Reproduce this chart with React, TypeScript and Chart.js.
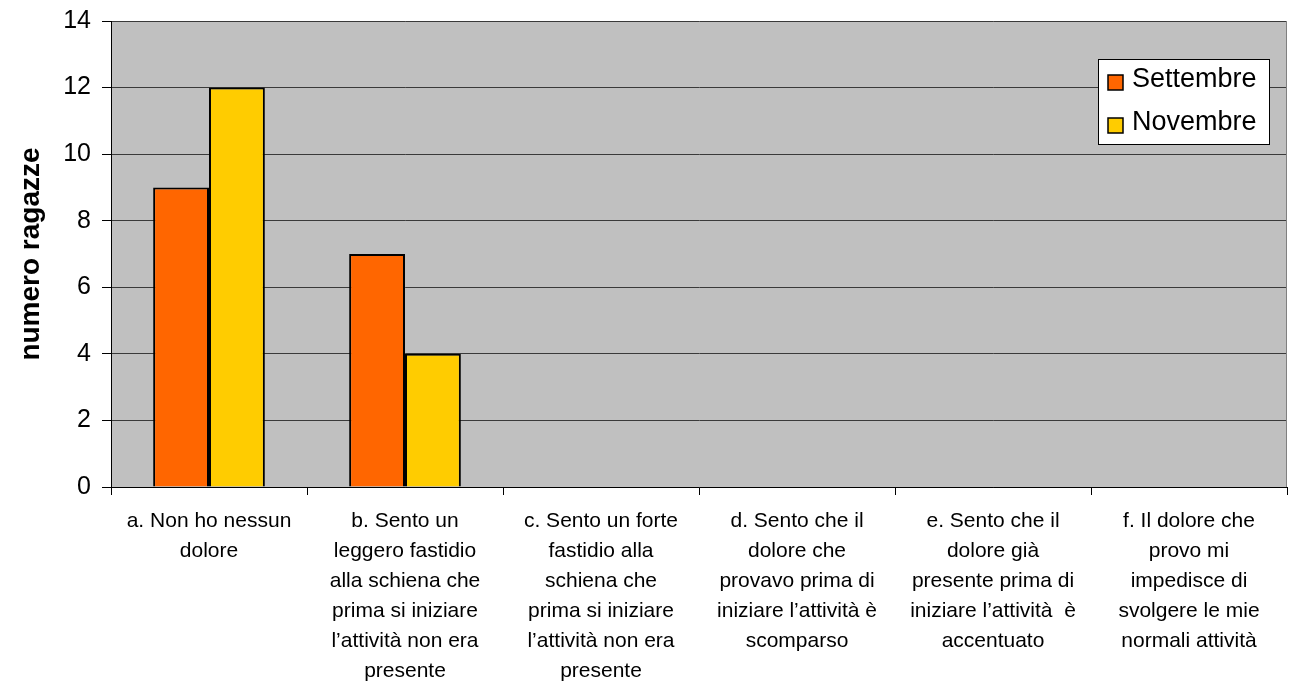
import React, { useEffect, useRef } from "react";
import { Chart, registerables } from "chart.js";

Chart.register(...registerables);

const categories: string[][] = [
  ["a. Non ho nessun", "dolore"],
  ["b. Sento un", "leggero fastidio", "alla schiena che", "prima si iniziare", "l’attività non era", "presente"],
  ["c. Sento un forte", "fastidio alla", "schiena che", "prima si iniziare", "l’attività non era", "presente"],
  ["d. Sento che il", "dolore che", "provavo prima di", "iniziare l’attività è", "scomparso"],
  ["e. Sento che il", "dolore già", "presente prima di", "iniziare l’attività  è", "accentuato"],
  ["f. Il dolore che", "provo mi", "impedisce di", "svolgere le mie", "normali attività"],
];
const settembre: number[] = [9, 7, 0, 0, 0, 0];
const novembre: number[] = [12, 4, 0, 0, 0, 0];
const seriesNames: string[] = ["Settembre", "Novembre"];
const seriesColors: string[] = ["#FF6600", "#FFCC00"];
const yTitle = "numero ragazze";

const FONT = "'Liberation Sans', Arial, sans-serif";

const bgPlugin = {
  id: "plotBg",
  beforeDraw(chart: any) {
    const { ctx, chartArea } = chart;
    ctx.save();
    ctx.fillStyle = "#C0C0C0";
    ctx.fillRect(chartArea.left, chartArea.top, chartArea.right - chartArea.left, chartArea.bottom - chartArea.top);
    ctx.restore();
  },
  afterDraw(chart: any) {
    const { ctx, chartArea } = chart;
    ctx.save();
    ctx.strokeStyle = "#808080";
    ctx.lineWidth = 1;
    ctx.beginPath();
    ctx.moveTo(chartArea.right - 0.5, chartArea.top);
    ctx.lineTo(chartArea.right - 0.5, chartArea.bottom);
    ctx.stroke();
    // legend
    const bx = 1098, by = 59, bw = 171, bh = 85;
    ctx.fillStyle = "#FFFFFF";
    ctx.fillRect(bx, by, bw, bh);
    ctx.strokeStyle = "#000000";
    ctx.lineWidth = 1;
    ctx.strokeRect(bx + 0.5, by + 0.5, bw, bh);
    ctx.font = `27px ${FONT}`;
    ctx.textBaseline = "middle";
    ctx.textAlign = "left";
    chart.data.datasets.forEach((ds: any, i: number) => {
      const cy = by + 23 + i * 43;
      ctx.fillStyle = ds.backgroundColor;
      ctx.fillRect(bx + 10, cy - 7, 15, 15);
      ctx.strokeStyle = "#000";
      ctx.lineWidth = 1.5;
      ctx.strokeRect(bx + 10, cy - 7, 15, 15);
      ctx.fillStyle = "#000";
      ctx.fillText(ds.label, bx + 34, cy - 2);
    });
    ctx.restore();
  },
};

export default function App() {
  const ref = useRef<HTMLCanvasElement>(null);
  useEffect(() => {
    if (!ref.current) return;
    const chart = new Chart(ref.current, {
      type: "bar",
      data: {
        labels: categories,
        datasets: [
          { label: seriesNames[0], data: settembre, backgroundColor: seriesColors[0], borderColor: "#000", borderWidth: 2, categoryPercentage: 0.57, barPercentage: 1 },
          { label: seriesNames[1], data: novembre, backgroundColor: seriesColors[1], borderColor: "#000", borderWidth: 2, categoryPercentage: 0.57, barPercentage: 1 },
        ],
      },
      options: {
        animation: false,
        responsive: false,
        devicePixelRatio: 1,
        layout: { padding: { top: 21, right: 9, left: 0, bottom: 0 } },
        plugins: { legend: { display: false }, tooltip: { enabled: false } },
        scales: {
          x: {
            afterFit(scale: any) { scale.height = 195; scale.paddingLeft = 0; scale.paddingRight = 0; },
            grid: { offset: true, drawOnChartArea: false, tickLength: 8, color: "#000", tickColor: "#000" },
            border: { color: "#000", width: 1 },
            ticks: { autoSkip: false, maxRotation: 0, minRotation: 0, padding: 11, color: "#000", font: { family: FONT, size: 21, lineHeight: 1.43 } },
          },
          y: {
            min: 0, max: 14,
            afterFit(scale: any) { scale.width = 111; scale.paddingTop = 0; scale.paddingBottom = 0; },
            grid: { color: "#3a3a3a", tickColor: "#000", tickLength: 9 },
            border: { color: "#000", width: 1 },
            ticks: { stepSize: 2, padding: 11, color: "#000", font: { family: FONT, size: 25 } },
            title: { display: true, text: yTitle, color: "#000", padding: { top: 14, bottom: 0 }, font: { family: FONT, size: 28, weight: "bold" } },
          },
        },
      },
      plugins: [bgPlugin],
    });
    return () => chart.destroy();
  }, []);
  return (
    <div style={{ position: "fixed", left: 0, top: 0, width: 1296, height: 682, background: "#fff" }}>
      <canvas ref={ref} width={1296} height={682} style={{ display: "block" }} />
    </div>
  );
}
